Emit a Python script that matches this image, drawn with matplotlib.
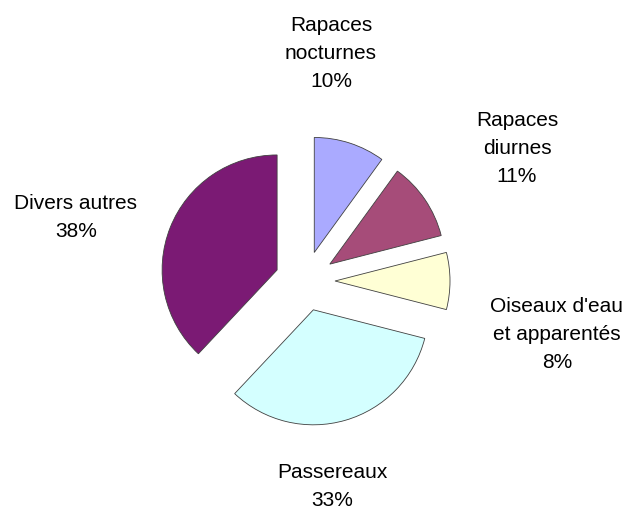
import matplotlib
matplotlib.use("Agg")
import matplotlib.pyplot as plt

categories = ["Rapaces\nnocturnes", "Rapaces\ndiurnes", "Oiseaux d'eau\net apparentés",
              "Passereaux", "Divers autres"]
values = [10, 11, 8, 33, 38]
colors = ["#AAAAFF", "#A64C79", "#FFFFD5", "#D4FFFF", "#7B1A74"]

# layout (pixel coordinates, y measured from top)
W, H = 629, 509
center_px = (305, 281)
radius_px = 115
explode_px = 30
label_pos_px = [(331, 53), (517, 148), (557, 335), (332, 487), (76, 217)]

fig = plt.figure(figsize=(W / 100, H / 100), dpi=100)
ax = fig.add_axes([0, 0, 1, 1])

ax.pie(values, colors=colors, startangle=90, counterclock=False,
       center=(center_px[0], H - center_px[1]), radius=radius_px,
       explode=[explode_px] * len(values),
       wedgeprops=dict(edgecolor="#404040", linewidth=0.6), frame=True)
ax.set_xlim(0, W)
ax.set_ylim(0, H)
ax.set_aspect("equal")
ax.axis("off")

total = sum(values)
for cat, v, (x, y) in zip(categories, values, label_pos_px):
    ax.text(x, H - y, f"{cat}\n{100 * v / total:.0f}%", ha="center", va="center",
            fontsize=15, family=["Liberation Sans", "DejaVu Sans"], color="black",
            linespacing=1.6)

fig.savefig("out.png", dpi=100, facecolor="white")
